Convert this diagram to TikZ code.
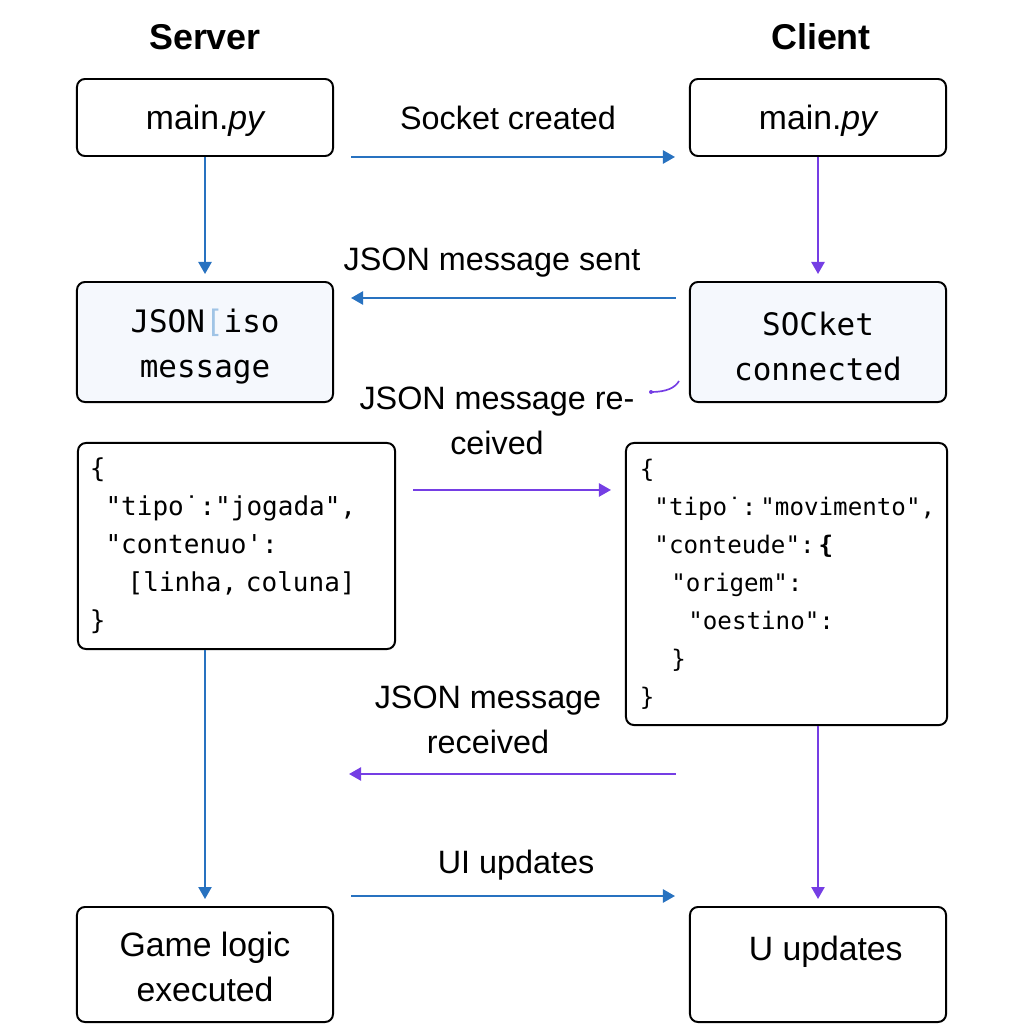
\documentclass[tikz,border=0pt]{standalone}
\usepackage{fontspec}
\setmainfont{Liberation Sans}
\setmonofont{DejaVu Sans Mono}
\usepackage{tikz}
\usetikzlibrary{calc,arrows.meta}

\definecolor{flowblue}{RGB}{40,114,192}
\definecolor{flowpurple}{RGB}{117,62,228}
\definecolor{boxtint}{RGB}{245,248,253}
\definecolor{cursorblue}{RGB}{160,196,230}
\newcommand\toppad{\rule{0pt}{23pt}}

\begin{document}
\begin{tikzpicture}[x=0.025cm, y=-0.025cm,
  box/.style={draw=black, line width=1.4pt, rounded corners=0.2cm, align=center, inner sep=0pt,
    font=\fontsize{24}{32}\selectfont},
  stepbox/.style={box, text depth=0pt, minimum width=6.4cm, minimum height=1.925cm},
  codebox/.style={box, fill=boxtint, minimum width=6.4cm, minimum height=3cm,
    font=\ttfamily\fontsize{22}{32}\selectfont},
  jsonbox/.style={box, align=left, inner xsep=0.3cm},
  title/.style={font=\bfseries\fontsize{25.5}{30}\selectfont},
  flowlabel/.style={align=center, font=\fontsize{23}{32}\selectfont},
  blueflow/.style={draw=flowblue, line width=1.3pt, -{Triangle[length=0.3cm,width=0.33cm]}},
  purpleflow/.style={draw=flowpurple, line width=1.3pt, -{Triangle[length=0.3cm,width=0.33cm]}}]
  \useasboundingbox (0,0) rectangle (1024,1024);

  % column headers
  \node[title] (server) at (205,37) {Server};
  \node[title] (client) at (821,37) {Client};

  % boxes
  \node[stepbox] (smain) at (205,117.5) {main.{\itshape py}};
  \node[stepbox] (cmain) at (818,117.5) {main.{\itshape py}};
  \node[codebox] (sjson) at (205,342) {\toppad JSON{\color{cursorblue}[}iso\\message};
  \node[codebox] (csock) at (818,342) {\toppad SOCket\\connected};
  \node[jsonbox, text width=7.325cm, minimum height=5.15cm,
    font=\ttfamily\fontsize{18.5}{27}\selectfont] (smsg) at (236.5,546) {%
    \{\\
    \hspace*{0.6em}"tipo˙:"jogada",\\
    \hspace*{0.6em}"contenuo':\\
    \hspace*{1.45em}[linha, coluna]\\
    \}};
  \node[jsonbox, inner xsep=0.35cm, text width=7.325cm, minimum height=7.05cm,
    font=\ttfamily\fontsize{17.2}{27}\selectfont] (cmsg) at (786.5,584) {%
    \{\\
    \hspace*{0.6em}"tipo˙:\,"movimento",\\
    \hspace*{0.6em}"conteude":\,\textbf{\{}\\
    \hspace*{1.3em}"origem":\\
    \hspace*{2em}"oestino":\\
    \hspace*{1.3em}\}\\
    \}};
  \node[stepbox, minimum height=2.875cm] (sgame) at (205,964.5) {\rule{0pt}{21pt}Game logic\\executed};
  \node[stepbox, minimum height=2.875cm] (cupd) at (818,964.5) {\strut\hspace*{11pt}U updates\\[-4pt]\strut};

  % labels
  \node[flowlabel] (lsock) at (508,118) {Socket created};
  \node[flowlabel] (lsent) at (492,263) {JSON message sent};
  \node[flowlabel] (lrecv) at (497,421) {JSON message re-\\ceived};
  \node[flowlabel] (lback) at (488,720) {JSON message\\received};
  \node[flowlabel] (lui) at (516,865) {UI updates};

  % connectors
  \draw[blueflow] ($(smain.south east)+(17,0)$) -- ($(cmain.south west)+(-14,0)$);
  \draw[blueflow] (smain.south) -- ($(sjson.north)+(0,-7)$);
  \draw[purpleflow] (cmain.south) -- ($(csock.north)+(0,-7)$);
  \draw[blueflow] ($(csock.north west)+(-13,17)$) -- ($(sjson.north east)+(17,17)$);
  \draw[purpleflow] ($(smsg.north east)+(17,48)$) -- ($(cmsg.north west)+(-14,48)$);
  \draw[blueflow] (sgame.north |- smsg.south) -- ($(sgame.north)+(0,-7)$);
  \draw[purpleflow] (cupd.north |- cmsg.south) -- ($(cupd.north)+(0,-7)$);
  \draw[purpleflow] ($(cupd.north west)+(-13,-132)$) -- ($(sgame.north east)+(15,-132)$);
  \draw[blueflow] ($(sgame.north east)+(17,-10)$) -- ($(cupd.north west)+(-14,-10)$);

  % small stroke beside the socket box
  \draw[flowpurple, line width=1.2pt] (651,392) .. controls (666,392) and (675,388) .. (679,381);
  \fill[flowpurple] (651,392) circle (0.05cm);
\end{tikzpicture}
\end{document}
